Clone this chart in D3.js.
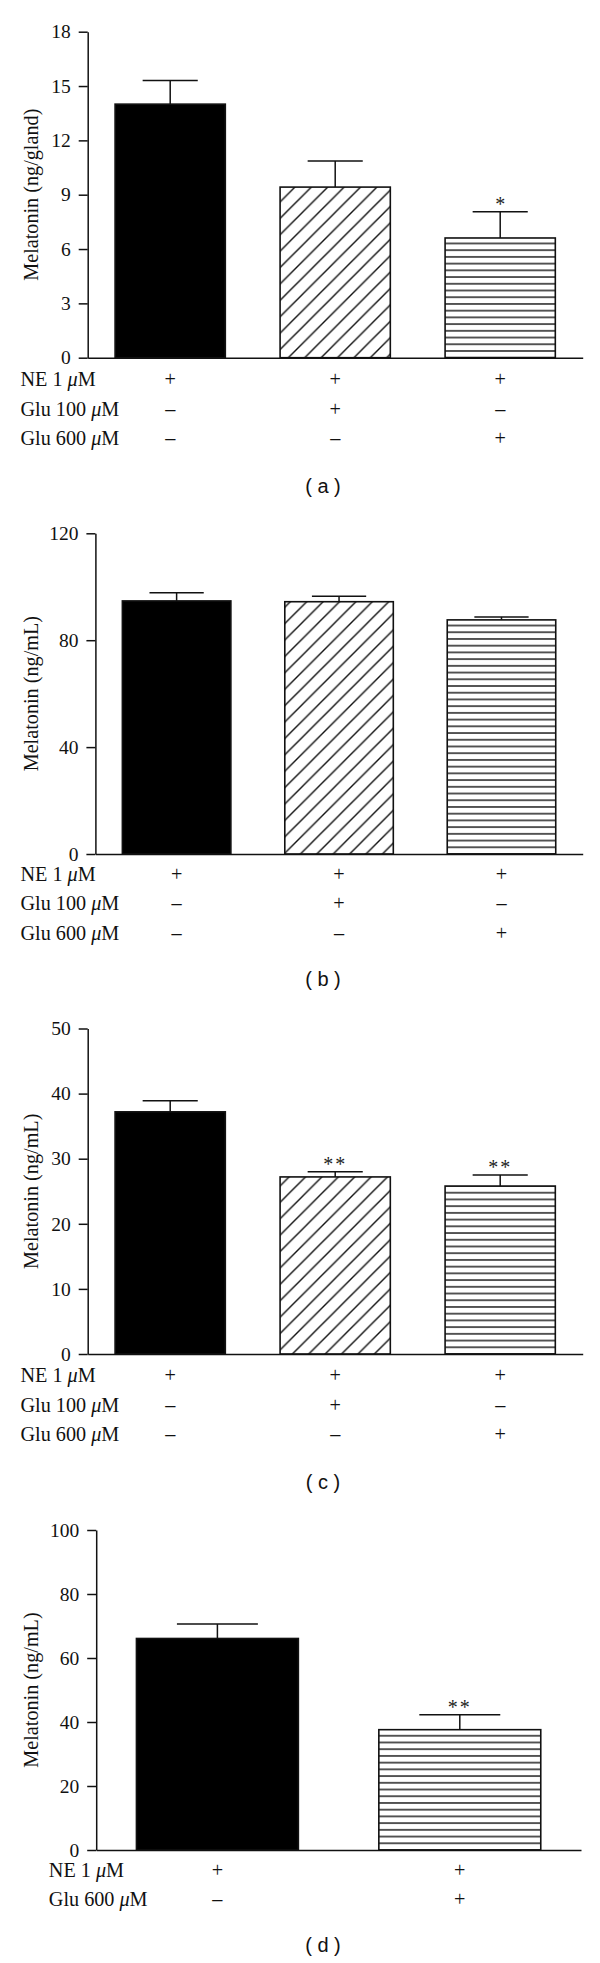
<!DOCTYPE html>
<html>
<head>
<meta charset="utf-8">
<script src="https://cdn.jsdelivr.net/npm/d3@7"></script>
<style>
  html, body { margin: 0; padding: 0; background: #fff; }
  svg { display: block; }
</style>
</head>
<body>
<div id="chart"></div>
<script>
// ---------- DATA ----------
const treatmentsABC = ["NE 1 μM", "Glu 100 μM", "Glu 600 μM"];
const treatmentsD = ["NE 1 μM", "Glu 600 μM"];

const signsABC = [["+", "+", "+"], ["–", "+", "–"], ["–", "–", "+"]];
const signsD = [["+", "+"], ["–", "+"]];

const fillsABC = ["solid", "diag", "horiz"];
const fillsD = ["solid", "horiz"];

const meansA = [14.0, 9.42, 6.61];
const semA = [1.31, 1.44, 1.45];
const ticksA = [0, 3, 6, 9, 12, 15, 18];
const sigA = ["", "", "*"];

const meansB = [94.7, 94.4, 87.6];
const semB = [3.1, 2.0, 1.1];
const ticksB = [0, 40, 80, 120];
const sigB = ["", "", ""];

const meansC = [37.2, 27.2, 25.8];
const semC = [1.7, 0.8, 1.7];
const ticksC = [0, 10, 20, 30, 40, 50];
const sigC = ["", "**", "**"];

const meansD = [66.1, 37.6];
const semD = [4.5, 4.7];
const ticksD = [0, 20, 40, 60, 80, 100];
const sigD = ["", "**"];

const yLabelA = "Melatonin (ng/gland)";
const yLabelBCD = "Melatonin (ng/mL)";

// ---------- LAYOUT ----------
const W = 600, H = 1963;
const serif = "'Liberation Serif', 'Times New Roman', serif";
const sans = "'Liberation Sans', Arial, sans-serif";

const panels = [
  { id: "a", means: meansA, sem: semA, ticks: ticksA, sig: sigA, fills: fillsABC,
    rows: treatmentsABC, signs: signsABC, ylabel: yLabelA,
    x0: 87.7, x1: 582.7, yTop: 31.7, yBot: 357.7, rowOff: [21.5, 51.5, 81], labelY: 487.3, rowX: 20.5 },
  { id: "b", means: meansB, sem: semB, ticks: ticksB, sig: sigB, fills: fillsABC,
    rows: treatmentsABC, signs: signsABC, ylabel: yLabelBCD,
    x0: 95.4, x1: 582.7, yTop: 533.3, yBot: 854, rowOff: [20.5, 49.8, 79], labelY: 980.7, rowX: 20.5 },
  { id: "c", means: meansC, sem: semC, ticks: ticksC, sig: sigC, fills: fillsABC,
    rows: treatmentsABC, signs: signsABC, ylabel: yLabelBCD,
    x0: 87.7, x1: 582.7, yTop: 1028.5, yBot: 1354, rowOff: [21.3, 51.5, 80.8], labelY: 1483.3, rowX: 20.5 },
  { id: "d", means: meansD, sem: semD, ticks: ticksD, sig: sigD, fills: fillsD,
    rows: treatmentsD, signs: signsD, ylabel: yLabelBCD,
    x0: 96.2, x1: 581, yTop: 1530, yBot: 1850, rowOff: [20.7, 49.5], labelY: 1946.7, rowX: 48.8 }
];

const svg = d3.select("#chart").append("svg")
  .attr("width", W).attr("height", H)
  .attr("viewBox", `0 0 ${W} ${H}`);

svg.append("rect").attr("width", W).attr("height", H).attr("fill", "#fff");

const defs = svg.append("defs");

// diagonal hatch pattern
const s = 16.4;
const diag = defs.append("pattern")
  .attr("id", "diag").attr("patternUnits", "userSpaceOnUse")
  .attr("width", s).attr("height", s)
  .attr("patternTransform", "translate(288.3,357.7)");
diag.append("rect").attr("width", s).attr("height", s).attr("fill", "#fff");
diag.append("path")
  .attr("d", `M-2,2 L2,-2 M0,${s} L${s},0 M${s-2},${s+2} L${s+2},${s-2}`)
  .attr("stroke", "#111").attr("stroke-width", 1.4).attr("fill", "none");

panels.forEach(p => {
  // horizontal line pattern anchored at baseline
  const hs = 6.72;
  const hp = defs.append("pattern")
    .attr("id", "horiz-" + p.id).attr("patternUnits", "userSpaceOnUse")
    .attr("width", 10).attr("height", hs)
    .attr("patternTransform", `translate(0,${p.yBot})`);
  hp.append("rect").attr("width", 10).attr("height", hs).attr("fill", "#fff");
  hp.append("rect").attr("x", 0).attr("y", -0.7).attr("width", 10).attr("height", 1.4).attr("fill", "#111");
  hp.append("rect").attr("x", 0).attr("y", hs - 0.7).attr("width", 10).attr("height", 1.4).attr("fill", "#111");
});

panels.forEach(p => {
  const n = p.means.length;
  const g = svg.append("g").attr("class", "panel-" + p.id);

  const x = d3.scaleBand()
    .domain(d3.range(n))
    .range([p.x0, p.x1])
    .paddingInner(0.332)
    .paddingOuter(0.166);

  const y = d3.scaleLinear()
    .domain([0, d3.max(p.ticks)])
    .range([p.yBot, p.yTop]);

  // bars
  const fillFor = f => f === "solid" ? "#000" : (f === "diag" ? "url(#diag)" : `url(#horiz-${p.id})`);

  g.selectAll("rect.bar").data(p.means).join("rect")
    .attr("class", "bar")
    .attr("x", (d, i) => x(i))
    .attr("y", d => y(d))
    .attr("width", x.bandwidth())
    .attr("height", d => y(0) - y(d))
    .attr("fill", (d, i) => fillFor(p.fills[i]))
    .attr("stroke", "#111")
    .attr("stroke-width", 1.6);

  // error bars (upper only)
  const capW = x.bandwidth() / 2;
  const eg = g.selectAll("g.err").data(p.means).join("g").attr("class", "err");
  eg.append("line")
    .attr("x1", (d, i) => x(i) + x.bandwidth() / 2)
    .attr("x2", (d, i) => x(i) + x.bandwidth() / 2)
    .attr("y1", d => y(d))
    .attr("y2", (d, i) => y(d + p.sem[i]))
    .attr("stroke", "#111").attr("stroke-width", 1.5);
  eg.append("line")
    .attr("x1", (d, i) => x(i) + x.bandwidth() / 2 - capW / 2)
    .attr("x2", (d, i) => x(i) + x.bandwidth() / 2 + capW / 2)
    .attr("y1", (d, i) => y(d + p.sem[i]))
    .attr("y2", (d, i) => y(d + p.sem[i]))
    .attr("stroke", "#111").attr("stroke-width", 1.5);

  // significance stars
  g.selectAll("text.sig").data(p.sig).join("text")
    .attr("class", "sig")
    .attr("x", (d, i) => x(i) + x.bandwidth() / 2)
    .attr("y", (d, i) => y(p.means[i] + p.sem[i]) - 0.5)
    .attr("text-anchor", "middle")
    .attr("font-family", serif)
    .attr("font-size", 20)
    .attr("letter-spacing", d => d.length > 1 ? 2 : 0)
    .attr("fill", "#222")
    .text(d => d);

  // y axis
  const yAxis = d3.axisLeft(y).tickValues(p.ticks).tickSize(9).tickSizeOuter(0).tickPadding(8);
  const ya = g.append("g").attr("transform", `translate(${p.x0},0)`).call(yAxis);
  ya.select(".domain").attr("stroke", "#111").attr("stroke-width", 1.5);
  ya.selectAll(".tick line").attr("stroke", "#111").attr("stroke-width", 1.5);
  ya.selectAll(".tick text").attr("font-family", serif).attr("font-size", 19.5).attr("fill", "#111");

  // x axis baseline
  const xAxis = d3.axisBottom(x).tickSize(0).tickSizeOuter(0).tickFormat("");
  const xa = g.append("g").attr("transform", `translate(0,${y(0)})`).call(xAxis);
  xa.select(".domain").attr("stroke", "#111").attr("stroke-width", 1.5);

  // y axis label
  g.append("text")
    .attr("transform", `translate(37.5,${(p.yTop + p.yBot) / 2}) rotate(-90)`)
    .attr("text-anchor", "middle")
    .attr("font-family", serif)
    .attr("font-size", 20.2)
    .attr("fill", "#111")
    .text(p.ylabel);

  // treatment rows
  p.rows.forEach((label, r) => {
    const cy = y(0) + p.rowOff[r];
    const t = g.append("text")
      .attr("x", p.rowX)
      .attr("y", cy + 6.6)
      .attr("font-family", serif)
      .attr("font-size", 20.2)
      .attr("fill", "#111");
    const parts = label.split("μ");
    t.append("tspan").text(parts[0]);
    t.append("tspan").attr("font-style", "italic").text("μ");
    t.append("tspan").text(parts[1]);

    g.selectAll(null).data(p.signs[r]).join("text")
      .attr("x", (d, i) => x(i) + x.bandwidth() / 2)
      .attr("y", cy + 6.6)
      .attr("text-anchor", "middle")
      .attr("font-family", serif)
      .attr("font-size", 20.2)
      .attr("fill", "#111")
      .text(d => d);
  });

  // panel label
  g.append("text")
    .attr("x", 323)
    .attr("y", p.labelY + 5.5)
    .attr("text-anchor", "middle")
    .attr("font-family", sans)
    .attr("font-size", 20)
    .attr("fill", "#111")
    .attr("xml:space", "preserve")
    .text(`( ${p.id} )`);
});
</script>
</body>
</html>
